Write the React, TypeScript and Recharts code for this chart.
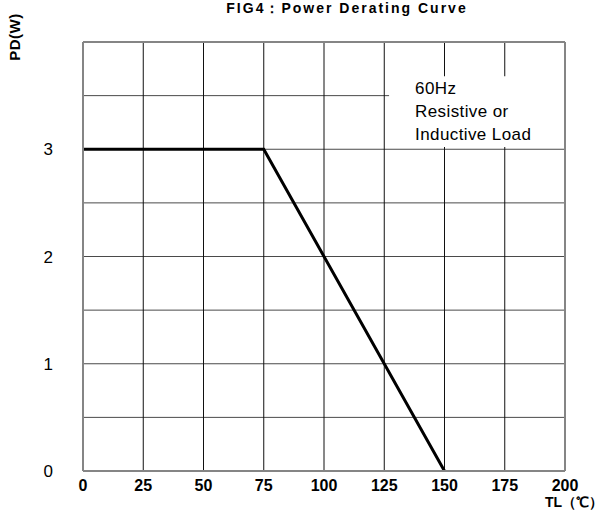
import React from "react";
import {
  LineChart, Line, XAxis, YAxis, CartesianGrid, ReferenceLine, ReferenceArea,
} from "recharts";

// temperature TL (°C) vs power PD (W)
const tempPoints = [0, 75, 150];
const powerPoints = [3, 3, 0];
const xTicks = [0, 25, 50, 75, 100, 125, 150, 175, 200];
const yGridTicks = [0, 0.5, 1, 1.5, 2, 2.5, 3, 3.5, 4];
const yLabelTicks = [0, 1, 2, 3];
const noteLines = ["60Hz", "Resistive or", "Inductive Load"];

const data = tempPoints.map((t, i) => ({ t, p: powerPoints[i] }));

const FONT = "'Liberation Sans', Arial, sans-serif";
const BORDER = "#858585";

const XTick = (props: any) => {
  const { x, y, payload } = props;
  return (
    <text x={x} y={y + 20} textAnchor="middle" fontFamily={FONT} fontSize={16}
          fontWeight="bold" fill="#000">
      {payload.value}
    </text>
  );
};

const YTick = (props: any) => {
  const { x, y, payload } = props;
  if (!yLabelTicks.includes(payload.value)) return null;
  return (
    <text x={x - 30} y={y + 6} textAnchor="end" fontFamily={FONT} fontSize={17} fill="#000">
      {payload.value}
    </text>
  );
};

const NoteLabel = (props: any) => {
  const vb = props.viewBox || {};
  return (
    <g>
      {noteLines.map((line, i) => (
        <text key={line} x={vb.x + 26} y={vb.y + 18 + i * 23} fontFamily={FONT}
              fontSize={17} letterSpacing={0.4} fill="#000">
          {line}
        </text>
      ))}
    </g>
  );
};

export default function App() {
  return (
    <div style={{ position: "absolute", left: 0, top: 0, width: 606, height: 513, background: "#fff" }}>
      <LineChart width={606} height={513} data={data}
                 margin={{ top: 42, right: 41, bottom: 0, left: 0 }}>
        <CartesianGrid vertical={false} stroke="#4a4a4a" strokeWidth={1} />
        <CartesianGrid horizontal={false} stroke="#111" strokeWidth={1} />
        <XAxis dataKey="t" type="number" domain={[0, 200]} ticks={xTicks} height={42}
               axisLine={{ stroke: BORDER, strokeWidth: 2 }} tickLine={false}
               tickSize={0} tickMargin={0} tick={<XTick />} interval={0} />
        <YAxis type="number" domain={[0, 4]} ticks={yGridTicks} width={83}
               axisLine={{ stroke: BORDER, strokeWidth: 2 }} tickLine={false}
               tickSize={0} tickMargin={0} tick={<YTick />} interval={0} />
        <ReferenceArea x1={127} x2={200} y1={3.02} y2={3.68} fill="#fff" fillOpacity={1}
                       stroke="none" label={<NoteLabel />} />
        <ReferenceLine y={4} stroke={BORDER} strokeWidth={2} />
        <ReferenceLine x={200} stroke={BORDER} strokeWidth={2} />
        <Line type="linear" dataKey="p" stroke="#000" strokeWidth={3} dot={false}
              isAnimationActive={false} />
      </LineChart>
      <svg width={606} height={513} style={{ position: "absolute", left: 0, top: 0, pointerEvents: "none" }}>
        <text x={347} y={13} textAnchor="middle" fontFamily={FONT} fontSize={14}
              fontWeight="bold" letterSpacing={2}>
          FIG4：Power Derating Curve
        </text>
        <text transform="translate(20,37) rotate(-90)" textAnchor="middle" fontFamily={FONT}
              fontSize={15} fontWeight="bold" letterSpacing={0.5}>
          PD(W)
        </text>
        <text x={545} y={507} fontFamily={FONT} fontSize={14} fontWeight="bold">
          TL（℃）
        </text>
      </svg>
    </div>
  );
}
